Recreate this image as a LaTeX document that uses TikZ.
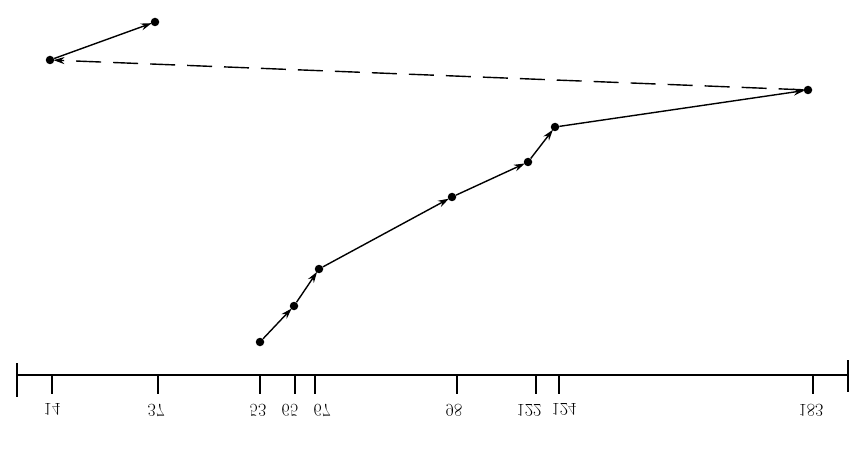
\documentclass[tikz,border=0pt]{standalone}
\usepackage{graphicx}
\usetikzlibrary{arrows.meta}

\tikzset{
  dot/.style={circle, fill, inner sep=0pt, minimum size=8.5pt},
  hop/.style={-{Stealth[length=11pt, width=7pt]}, line width=1.4pt, shorten >=-1pt},
  jump/.style={hop, dash pattern=on 25pt off 12pt},
  tick/.style={line width=1.6pt}
}

\begin{document}
\begin{tikzpicture}[x=1pt, y=-1pt]
  \useasboundingbox (0,0) rectangle (866,454);

  % Axis
  \draw[line width=2pt] (17,375) -- (848,375);
  \draw[tick] (17,363) -- (17,397);
  \draw[tick] (848,360) -- (848,392);
  \foreach \x/\l/\v in {52/52/14, 158/156/37, 260/258/53, 295/290/65, 315/322/67, 457/454/98, 536/529/122, 559/564/124, 813/811/183} {
    \draw[tick] (\x,375) -- (\x,394);
    \node[font=\fontsize{18}{18}\selectfont] (t\v) at (\l,410) {\scalebox{1}[-1]{\v}};
  }

  % Points
  \node[dot] (d53) at (260,342) {};
  \node[dot] (d65) at (294,306) {};
  \node[dot] (d67) at (319,269) {};
  \node[dot] (d98) at (452,197) {};
  \node[dot] (d122) at (528,162) {};
  \node[dot] (d124) at (555,127) {};
  \node[dot] (d183) at (808,90) {};
  \node[dot] (d14) at (50,60) {};
  \node[dot] (d37) at (155,22) {};

  % Path
  \draw[hop] (d53) -- (d65);
  \draw[hop] (d65) -- (d67);
  \draw[hop] (d67) -- (d98);
  \draw[hop] (d98) -- (d122);
  \draw[hop] (d122) -- (d124);
  \draw[hop] (d124) -- (d183);
  \draw[jump] (d183) -- (d14);
  \draw[hop] (d14) -- (d37);
\end{tikzpicture}
\end{document}
